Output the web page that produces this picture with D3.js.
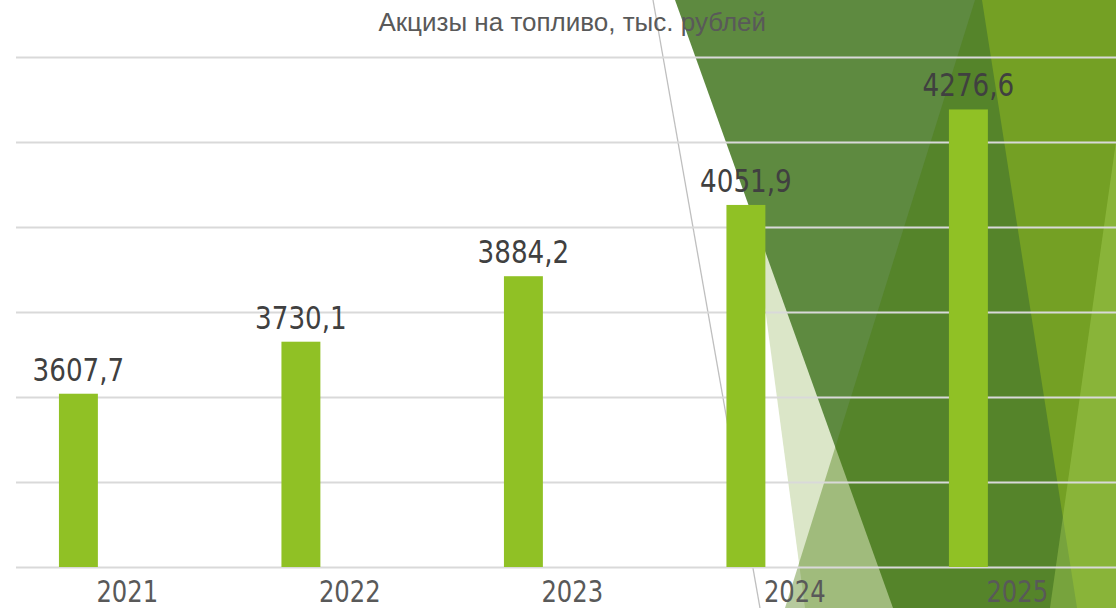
<!DOCTYPE html>
<html>
<head>
<meta charset="utf-8">
<script src="https://cdn.jsdelivr.net/npm/d3@7"></script>
<style>
  body { margin: 0; background: #fff; }
  svg { display: block; }
  .num { font-family: "Liberation Sans Narrow", "DejaVu Sans Condensed", "Liberation Sans", sans-serif; }
</style>
</head>
<body>
<div id="chart"></div>
<script>
// data
var years = ["2021", "2022", "2023", "2024", "2025"];
var values = [3607.7, 3730.1, 3884.2, 4051.9, 4276.6];
var yTicks = [3200, 3400, 3600, 3800, 4000, 4200, 4400];
var title = "Акцизы на топливо, тыс. рублей";

var W = 1116, H = 608;
var margin = {top: 57, right: 0, bottom: 41, left: 16},
    width = 1112.5,
    height = H - margin.top - margin.bottom;

var svg = d3.select("#chart")
    .append("svg")
    .attr("width", W)
    .attr("height", H);

// slide background decoration (theme triangles on the right)
var deco = svg.append("g").attr("class", "deco");
deco.append("polygon")
    .attr("points", "724,0 900,0 900,608 805,608")
    .style("fill", "rgba(160,190,110,0.38)");
deco.append("line")
    .attr("x1", 653).attr("y1", 0).attr("x2", 760).attr("y2", 608)
    .style("stroke", "#bfbfbf").style("stroke-width", 1.3);
deco.append("polygon")
    .attr("points", "675,0 1116,0 1116,608 893,608")
    .style("fill", "#5e8a40");
deco.append("polygon")
    .attr("points", "975,0 1116,0 1116,608 785,608")
    .style("fill", "rgba(72,122,10,0.4)");
deco.append("polygon")
    .attr("points", "982,0 1116,0 1116,608 1077,608")
    .style("fill", "#74a024");
deco.append("polygon")
    .attr("points", "1136,0 1200,0 1200,608 1050,608")
    .style("fill", "rgba(170,210,90,0.4)");

var g = svg.append("g")
    .attr("transform", "translate(" + margin.left + "," + margin.top + ")");

var x = d3.scaleBand()
    .domain(years)
    .range([0, width])
    .padding(0);

var y = d3.scaleLinear()
    .domain([yTicks[0], yTicks[yTicks.length - 1]])
    .range([height, 0]);

// gridlines
g.append("g")
    .attr("class", "grid")
    .call(d3.axisLeft(y).tickValues(yTicks).tickSize(-(W - margin.left)).tickFormat(""))
    .call(function (a) { a.select(".domain").remove(); })
    .selectAll("line")
    .style("stroke", "#d9d9d9")
    .style("stroke-width", 2);

// x axis labels
var xAxis = g.append("g")
    .attr("transform", "translate(0," + height + ")")
    .call(d3.axisBottom(x).tickSize(0).tickPadding(13));
xAxis.select(".domain").remove();
xAxis.selectAll("text")
    .attr("class", "num")
    .attr("transform", "scale(0.87,1)")
    .style("font-size", "31px")
    .style("fill", "#595959");

// bars sit in the left part of each category slot
var barOff = x.bandwidth() * 0.193,
    barW = x.bandwidth() * 0.175;

g.selectAll("rect.bar")
    .data(values)
    .enter()
    .append("rect")
    .attr("class", "bar")
    .attr("x", function (d, i) { return x(years[i]) + barOff; })
    .attr("y", function (d) { return y(d); })
    .attr("width", barW)
    .attr("height", function (d) { return height - y(d); })
    .style("fill", "#90c125");

var fmt = d3.format(".1f");
g.selectAll("text.lbl")
    .data(values)
    .enter()
    .append("text")
    .attr("class", "lbl num")
    .attr("transform", function (d, i) {
        return "translate(" + (x(years[i]) + barOff + barW / 2) + "," + (y(d) - 13) + ") scale(0.91,1)";
    })
    .attr("text-anchor", "middle")
    .style("font-size", "32px")
    .style("fill", "#404040")
    .text(function (d) { return fmt(d).replace(".", ","); });

// title
svg.append("text")
    .attr("x", margin.left + width / 2)
    .attr("y", 31)
    .attr("text-anchor", "middle")
    .style("font-family", "'Liberation Sans', Arial, sans-serif")
    .style("font-size", "26px")
    .style("fill", "#595959")
    .text(title);
</script>
</body>
</html>
